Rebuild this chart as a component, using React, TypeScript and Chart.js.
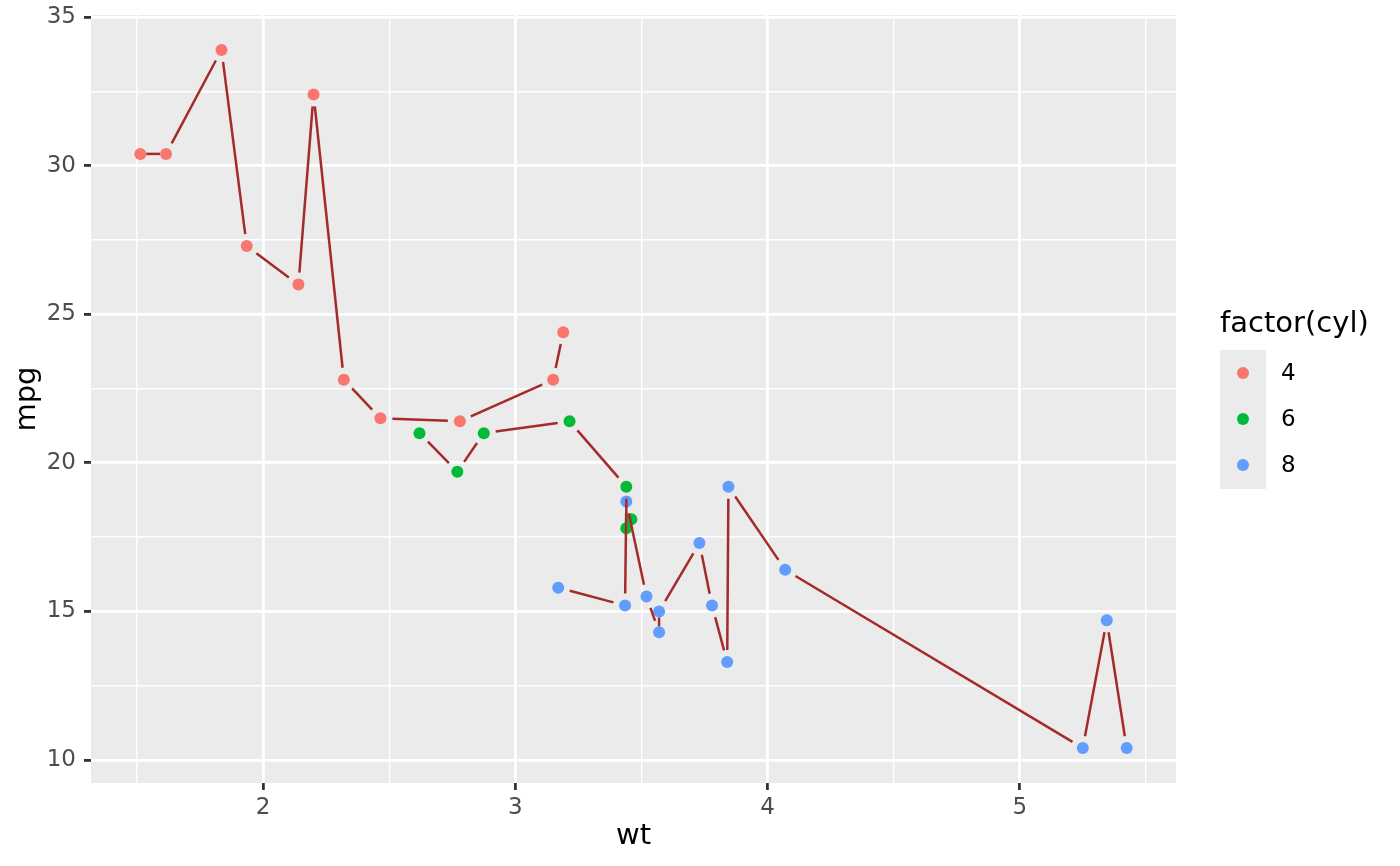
import React, { useEffect, useRef } from 'react';
import { Chart, registerables } from 'chart.js';

Chart.register(...registerables);

// mtcars: wt, mpg, cyl (row order kept, points drawn in this order)
const wt = [2.62, 2.875, 2.32, 3.215, 3.44, 3.46, 3.57, 3.19, 3.15, 3.44, 3.44, 4.07, 3.73, 3.78, 5.25, 5.424, 5.345, 2.2, 1.615, 1.835, 2.465, 3.52, 3.435, 3.84, 3.845, 1.935, 2.14, 1.513, 3.17, 2.77, 3.57, 2.78];
const mpg = [21.0, 21.0, 22.8, 21.4, 18.7, 18.1, 14.3, 24.4, 22.8, 19.2, 17.8, 16.4, 17.3, 15.2, 10.4, 10.4, 14.7, 32.4, 30.4, 33.9, 21.5, 15.5, 15.2, 13.3, 19.2, 27.3, 26.0, 30.4, 15.8, 19.7, 15.0, 21.4];
const cyl = [6, 6, 4, 6, 8, 6, 8, 4, 4, 6, 6, 8, 8, 8, 8, 8, 8, 4, 4, 4, 4, 8, 8, 8, 8, 4, 4, 4, 8, 6, 8, 4];

const cylLevels = [4, 6, 8];
const cylColors = ['#F8766D', '#00BA38', '#619CFF'];

const xMajor = [2, 3, 4, 5];
const xMinor = [1.5, 2.5, 3.5, 4.5, 5.5];
const yMajor = [10, 15, 20, 25, 30, 35];
const yMinor = [12.5, 17.5, 22.5, 27.5, 32.5];

const FONT = "'DejaVu Sans', sans-serif";
const LINE_COLOR = '#A52A2A';
const GAP = 12;
const PT_R = 6;

const colorOf = (c: number) => cylColors[cylLevels.indexOf(c)];

// rows of one cylinder group, sorted by wt (stable, like geom_line)
const groupRows = (c: number) =>
  wt.map((w, i) => i).filter(i => cyl[i] === c).sort((a, b) => wt[a] - wt[b]);

const panelBg = {
  id: 'panelBg',
  beforeDraw(chart: any) {
    const { ctx, chartArea: a } = chart;
    ctx.save();
    ctx.fillStyle = '#EBEBEB';
    ctx.fillRect(a.left, a.top, a.right - a.left, a.bottom - a.top);
    ctx.restore();
  }
};

// lines per group, with a gap around each point
const pointPath = {
  id: 'pointPath',
  afterDatasetsDraw(chart: any) {
    const { ctx, scales } = chart;
    ctx.save();
    ctx.strokeStyle = LINE_COLOR;
    ctx.lineWidth = 2.5;
    ctx.lineCap = 'butt';
    cylLevels.forEach(c => {
      const rows = groupRows(c);
      for (let k = 0; k < rows.length - 1; k++) {
        const x0 = scales.x.getPixelForValue(wt[rows[k]]);
        const y0 = scales.y.getPixelForValue(mpg[rows[k]]);
        const x1 = scales.x.getPixelForValue(wt[rows[k + 1]]);
        const y1 = scales.y.getPixelForValue(mpg[rows[k + 1]]);
        const len = Math.hypot(x1 - x0, y1 - y0);
        if (len < 1) continue;
        const g = len > 2 * GAP + 2 ? GAP : PT_R;
        if (len <= 2 * g) continue;
        const ux = (x1 - x0) / len;
        const uy = (y1 - y0) / len;
        ctx.beginPath();
        ctx.moveTo(x0 + ux * g, y0 + uy * g);
        ctx.lineTo(x1 - ux * g, y1 - uy * g);
        ctx.stroke();
      }
    });
    ctx.restore();
  }
};

const legendBox = {
  id: 'legendBox',
  afterDraw(chart: any) {
    const { ctx } = chart;
    ctx.save();
    ctx.fillStyle = '#000000';
    ctx.font = `29px ${FONT}`;
    ctx.textBaseline = 'middle';
    ctx.textAlign = 'left';
    ctx.fillText('factor(cyl)', 1220, 324);
    ctx.fillStyle = '#EBEBEB';
    ctx.fillRect(1220, 350, 46, 139);
    cylLevels.forEach((c, i) => {
      const cy = 373 + i * 46;
      ctx.beginPath();
      ctx.fillStyle = cylColors[i];
      ctx.arc(1243, cy, PT_R, 0, Math.PI * 2);
      ctx.fill();
      ctx.fillStyle = '#000000';
      ctx.font = `23px ${FONT}`;
      ctx.fillText(String(c), 1281, cy + 1);
    });
    ctx.restore();
  }
};

const gridOpts = (major: number[]) => ({
  color: '#FFFFFF',
  lineWidth: (ctx: any) => (major.includes(ctx.tick?.value) ? 2.8 : 1.4),
  tickColor: (ctx: any) => (major.includes(ctx.tick?.value) ? '#333333' : 'rgba(0,0,0,0)'),
  tickWidth: 2.8,
  tickLength: 7,
  drawTicks: true
});

export default function App() {
  const canvas = useRef<HTMLCanvasElement>(null);

  useEffect(() => {
    document.body.style.margin = '0';
    const points = wt.map((w, i) => ({ x: w, y: mpg[i] }));
    const chart = new Chart(canvas.current as HTMLCanvasElement, {
      type: 'scatter',
      data: {
        datasets: [{
          label: 'mpg',
          data: points,
          backgroundColor: cyl.map(colorOf),
          borderColor: cyl.map(colorOf),
          borderWidth: 0,
          pointRadius: PT_R
        }]
      },
      plugins: [panelBg, pointPath, legendBox],
      options: {
        responsive: true,
        maintainAspectRatio: false,
        animation: false,
        events: [],
        layout: { padding: { left: 0, right: 224, top: 15, bottom: 0 } },
        plugins: { legend: { display: false }, tooltip: { enabled: false } },
        scales: {
          x: {
            type: 'linear',
            min: 1.3175,
            max: 5.6196,
            border: { display: false },
            grid: gridOpts(xMajor) as any,
            afterBuildTicks: (s: any) => {
              s.ticks = [...xMinor, ...xMajor].sort((a, b) => a - b).map(value => ({ value }));
            },
            afterFit: (s: any) => {
              s.height = 83;
              s.paddingLeft = 0;
              s.paddingRight = 0;
            },
            ticks: {
              color: '#4D4D4D',
              font: { family: FONT, size: 23 },
              padding: 4,
              maxRotation: 0,
              autoSkip: false,
              callback: (v: any) => (xMajor.includes(Number(v)) ? String(v) : '')
            },
            title: {
              display: true,
              text: 'wt',
              color: '#000000',
              font: { family: FONT, size: 29 },
              padding: { top: 0, bottom: 12 }
            }
          },
          y: {
            type: 'linear',
            min: 9.225,
            max: 35.075,
            border: { display: false },
            grid: gridOpts(yMajor) as any,
            afterBuildTicks: (s: any) => {
              s.ticks = [...yMinor, ...yMajor].sort((a, b) => a - b).map(value => ({ value }));
            },
            afterFit: (s: any) => {
              s.width = 91;
              s.paddingTop = 0;
              s.paddingBottom = 0;
            },
            ticks: {
              color: '#4D4D4D',
              font: { family: FONT, size: 23 },
              padding: 8,
              autoSkip: false,
              callback: (v: any) => (yMajor.includes(Number(v)) ? String(v) : '')
            },
            title: {
              display: true,
              text: 'mpg',
              color: '#000000',
              font: { family: FONT, size: 29 },
              padding: { top: 10, bottom: 0 }
            }
          }
        }
      }
    });
    return () => {
      chart.destroy();
    };
  }, []);

  return (
    <div style={{ width: 1400, height: 866, position: 'relative' }}>
      <canvas ref={canvas}></canvas>
    </div>
  );
}
